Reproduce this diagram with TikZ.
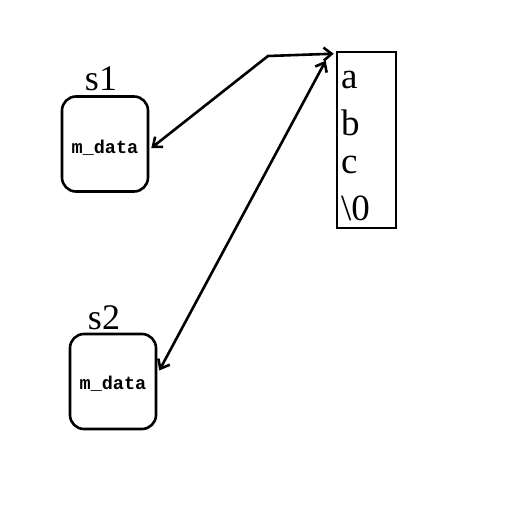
\documentclass[tikz,border=0pt]{standalone}
\usepackage{fontspec}
\setmainfont{Liberation Serif}
\setmonofont{Liberation Mono}
\usetikzlibrary{calc,arrows.meta}
\begin{document}
\begin{tikzpicture}[x=1pt,y=-1pt,
  box/.style={draw,line width=2.6pt,rounded corners=14pt,minimum width=86pt,minimum height=95pt,inner sep=0pt},
  arrbox/.style={draw,line width=2.6pt,minimum width=59pt,minimum height=176pt,inner sep=0pt},
  lbl/.style={font=\fontsize{36}{38}\selectfont,inner sep=0pt},
  md/.style={font=\ttfamily\bfseries\fontsize{18.5}{20}\selectfont,inner sep=0pt},
  ch/.style={font=\fontsize{37}{38}\selectfont,inner sep=0pt,anchor=west},
  link/.style={line width=2.6pt,{Straight Barb[length=8pt,width=13pt]}-{Straight Barb[length=8pt,width=13pt]}}]
\useasboundingbox (0,0) rectangle (517,517);
\fill[white] (0,0) rectangle (517,517);
\node[box] (s1box) at (105,144) {};
\node[lbl] (s1) at (101,79) {s1};
\node[md] (md1) at (105,148) {m\_data};
\node[box] (s2box) at (113,381.5) {};
\node[lbl] (s2) at (104,318) {s2};
\node[md] (md2) at (113,384) {m\_data};
\node[arrbox] (arr) at (366.5,140) {};
\node[ch] (ca) at (341,80) {a};
\node[ch] (cb) at (341,123) {b};
\node[ch] (cc) at (341,165) {c};
\node[ch] (c0) at (341,208) {\textbackslash 0};
\coordinate (bend) at (268,56);
\draw[link] ($(s1box.east)+(2,4)$) -- (bend) -- ($(arr.north west)+(-2,3)$);
\draw[link] ($(s2box.east)+(2,-11)$) -- ($(arr.north west)+(-10,10)$);
\end{tikzpicture}
\end{document}
